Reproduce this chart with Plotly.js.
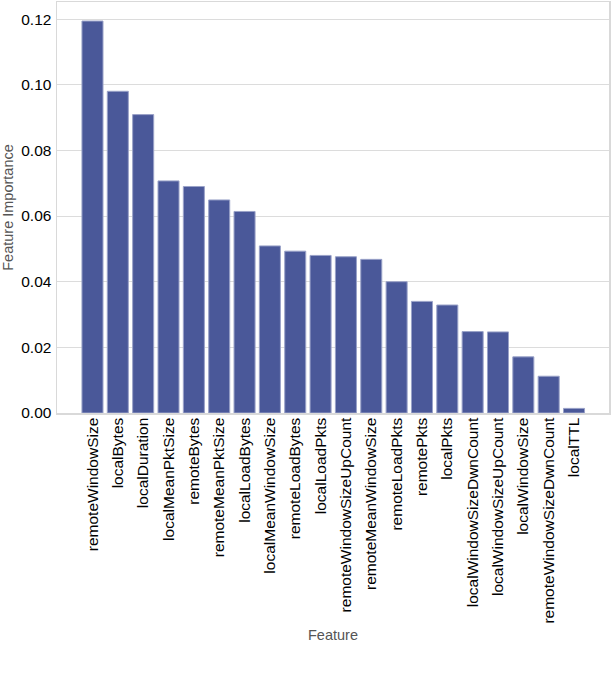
<!DOCTYPE html>
<html>
<head>
<meta charset="utf-8">
<script src="https://cdn.plot.ly/plotly-3.0.1.min.js"></script>
<style>
  html, body { margin: 0; padding: 0; background: #fff; }
  #chart { width: 612px; height: 676px; }
</style>
</head>
<body>
<div id="chart"></div>
<script>
const features = [
  "remoteWindowSize", "localBytes", "localDuration", "localMeanPktSize",
  "remoteBytes", "remoteMeanPktSize", "localLoadBytes", "localMeanWindowSize",
  "remoteLoadBytes", "localLoadPkts", "remoteWindowSizeUpCount", "remoteMeanWindowSize",
  "remoteLoadPkts", "remotePkts", "localPkts", "localWindowSizeDwnCount",
  "localWindowSizeUpCount", "localWindowSize", "remoteWindowSizeDwnCount", "localTTL"
]
const importance = [
  0.1194, 0.0980, 0.0909, 0.0707,
  0.0690, 0.0649, 0.0614, 0.0509,
  0.0493, 0.0480, 0.0476, 0.0468,
  0.0400, 0.0340, 0.0329, 0.0248,
  0.0247, 0.0171, 0.0112, 0.0014
]
const yTicks = [0, 0.02, 0.04, 0.06, 0.08, 0.10, 0.12]

const data = [
  {
    type: "bar",
    x: features.map((_, i) => i),
    y: importance,
    width: 0.83,
    marker: { color: "#4a5899", line: { color: "#9aa2c8", width: 1 } },
    hoverinfo: "x+y"
  }
]

const layout = {
  width: 612,
  height: 676,
  margin: { l: 57, r: 3, t: 2, b: 263 },
  paper_bgcolor: "#fff",
  plot_bgcolor: "#fff",
  font: { family: "Liberation Sans, Arial, sans-serif", size: 15, color: "#000" },
  showlegend: false,
  xaxis: {
    range: [-1.4, 20.38],
    tickmode: "array",
    tickvals: features.map((_, i) => i),
    ticktext: features,
    tickangle: -90,
    ticks: "",
    ticklabelstandoff: -3,
    showgrid: false,
    zeroline: false,
    showline: true,
    mirror: true,
    linecolor: "#d9d9d9",
    linewidth: 1.5,
    tickfont: { size: 15.5, color: "#000" },
    title: { text: "Feature", font: { size: 14.5, color: "#555" }, standoff: 7 }
  },
  yaxis: {
    range: [0, 0.1252],
    tickmode: "array",
    tickvals: yTicks,
    ticktext: yTicks.map(v => v.toFixed(2)),
    ticks: "",
    ticklabelstandoff: 1,
    showgrid: true,
    gridcolor: "#dcdcdc",
    gridwidth: 1,
    zeroline: false,
    showline: true,
    mirror: true,
    linecolor: "#d9d9d9",
    linewidth: 1.5,
    tickfont: { size: 15.5, color: "#000" },
    title: { text: "Feature Importance", font: { size: 14.5, color: "#555" }, standoff: 4 }
  }
}

const config = { responsive: false, displayModeBar: false, staticPlot: true }

Plotly.newPlot("chart", data, layout, config)
</script>
</body>
</html>
